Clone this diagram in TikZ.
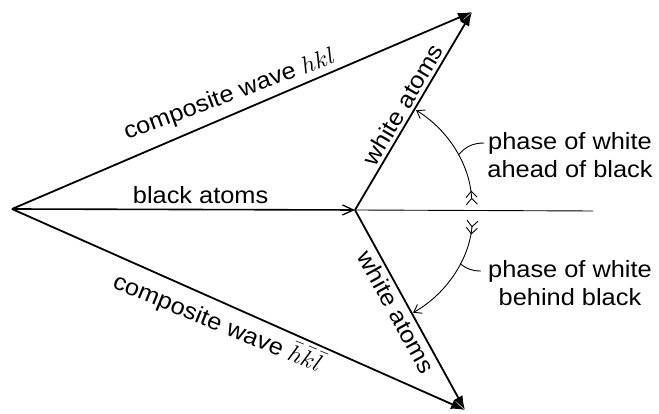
\documentclass[tikz,border=0pt]{standalone}
\usepackage{graphicx}
\usepackage{fontspec}
\setmainfont{Liberation Sans}[FakeStretch=1.08]
\usetikzlibrary{arrows.meta}
\newcommand{\bigmath}[1]{\scalebox{2.4}{\fontsize{10}{12}\selectfont$#1$}}
\begin{document}
\begin{tikzpicture}[x=1pt,y=1pt,
  vec/.style={line width=1.8pt, -{Latex[length=14pt,width=10pt]}},
  thinline/.style={line width=0.9pt},
  lbl/.style={font=\fontsize{23.5}{28.5}\selectfont, inner sep=3pt},
  note/.style={lbl, align=center},
  phasearc/.style={line width=0.9pt,
    {Straight Barb[reversed,length=6pt,width=11pt] Straight Barb[reversed,length=6pt,width=11pt]}-{Straight Barb[length=7pt,width=10pt]}}
]
\useasboundingbox (0,0) rectangle (659,414);
\coordinate (O) at (12,205);
\coordinate (B) at (355,204);
\coordinate (T) at (472,402);
\coordinate (L) at (465,4);
\coordinate (E) at (593,203);

\draw[thinline] (B) -- (E);
\draw[line width=1.6pt, -{Straight Barb[length=11pt,width=10pt,line width=1.3pt]}]
  (O) -- node[lbl, above, pos=0.55, yshift=2pt] (ba) {black atoms} (B);

\draw[vec] (O) -- (T);
\draw[vec] (B) -- node[lbl, above, sloped, pos=0.5] (wu) {white atoms} (T);
\draw[vec] (O) -- (L);
\draw[vec] (B) -- node[lbl, below, sloped, pos=0.48] (wl) {white atoms} (L);

\node[lbl, rotate=20.3, anchor=base] (cu) at (232,313) {composite wave \bigmath{hkl}};
\node[lbl, rotate=-22.3, anchor=base] (cl) at (215,84) {composite wave \bigmath{\bar{h}\bar{k}\bar{l}}};

\draw[phasearc] ([shift={(2.5:117)}]B) arc[start angle=2.5, end angle=58.5, radius=117];
\draw[phasearc] ([shift={(-5:118)}]B) arc[start angle=-5, end angle=-60.5, radius=118];

\coordinate (ua) at ([shift={(28:117)}]B);
\coordinate (la) at ([shift={(-27:118)}]B);
\node[note] (pu) at (570,259) {phase of white\\ahead of black};
\node[note] (pl) at (570,131) {phase of white\\behind black};
\draw[thinline] (ua) to[out=50,in=180] ([yshift=12pt]pu.west);
\draw[thinline] (la) to[out=-40,in=180] ([xshift=-4pt,yshift=12pt]pl.west);
\end{tikzpicture}
\end{document}
